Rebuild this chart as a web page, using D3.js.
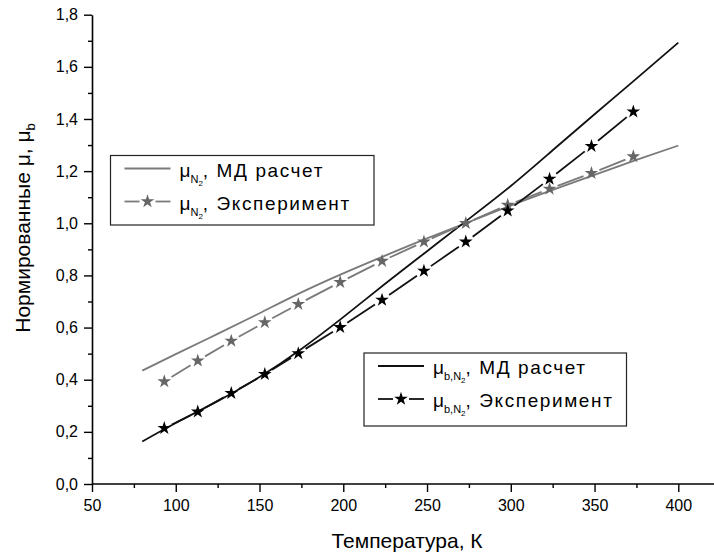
<!DOCTYPE html>
<html>
<head>
<meta charset="utf-8">
<script src="https://cdn.jsdelivr.net/npm/d3@7/dist/d3.min.js"></script>
<style>
  body { margin: 0; background: #fff; }
  text { font-family: "Liberation Sans", Arial, sans-serif; fill: #000; }
</style>
</head>
<body>
<figure id="mu-chart" style="margin:0"></figure>
<script>
// experimental points (K) and normalized values
var expT = [93.15, 113.15, 133.15, 153.15, 173.15, 198.15, 223.15, 248.15, 273.15, 298.15, 323.15, 348.15, 373.15];
var expMu = [0.393, 0.473, 0.549, 0.620, 0.690, 0.774, 0.855, 0.929, 1.000, 1.070, 1.132, 1.192, 1.256];
var expMuB = [0.214, 0.277, 0.348, 0.421, 0.501, 0.601, 0.706, 0.817, 0.929, 1.048, 1.170, 1.296, 1.428];

// MD calculation curves
var mdT = [80, 100, 125, 150, 175, 200, 225, 250, 275, 300, 325, 350, 375, 400];
var mdMu = [0.435, 0.498, 0.576, 0.655, 0.735, 0.808, 0.876, 0.942, 1.005, 1.068, 1.128, 1.186, 1.243, 1.298];
var mdMuB = [0.163, 0.234, 0.318, 0.410, 0.518, 0.640, 0.768, 0.893, 1.017, 1.143, 1.280, 1.418, 1.555, 1.693];

// tick labels
var xTicks = [50, 100, 150, 200, 250, 300, 350, 400];
var xMinor = [75, 125, 175, 225, 275, 325, 375];
var yTicks = [0, 0.2, 0.4, 0.6, 0.8, 1.0, 1.2, 1.4, 1.6, 1.8];
var yMinor = [0.1, 0.3, 0.5, 0.7, 0.9, 1.1, 1.3, 1.5, 1.7];

var width = 714, height = 556;
var grayLine = "#7a7a7a", grayStar = "#666", blackLine = "#111";

var svg = d3.select("figure#mu-chart")
  .append("svg")
    .attr("width", width)
    .attr("height", height);

var x = d3.scaleLinear().domain([50, 400]).range([92, 678.3]);
var y = d3.scaleLinear().domain([0, 1.8]).range([484, 14.7]);

// X axis (major + minor ticks)
var gx = svg.append("g")
  .attr("transform", "translate(0," + y(0) + ")")
  .call(d3.axisBottom(x)
    .tickValues(xTicks)
    .tickSize(8)
    .tickSizeOuter(0)
    .tickPadding(8)
    .tickFormat(d3.format("d")));
gx.select(".domain").remove();
gx.append("line")
  .attr("x1", x(50)).attr("x2", width)
  .attr("stroke", "#000").attr("stroke-width", 1.6);
svg.append("g")
  .attr("transform", "translate(0," + y(0) + ")")
  .call(d3.axisBottom(x).tickValues(xMinor).tickSize(4).tickFormat(""))
  .select(".domain").remove();

// Y axis
var fmt = function(d) { return d3.format(".1f")(d).replace(".", ","); };
var gy = svg.append("g")
  .attr("transform", "translate(" + x(50) + ",0)")
  .call(d3.axisLeft(y)
    .tickValues(yTicks)
    .tickSize(8)
    .tickSizeOuter(0)
    .tickPadding(6)
    .tickFormat(fmt));
gy.select(".domain").attr("stroke-width", 1.6);
svg.append("g")
  .attr("transform", "translate(" + x(50) + ",0)")
  .call(d3.axisLeft(y).tickValues(yMinor).tickSize(4).tickFormat(""))
  .select(".domain").remove();

svg.selectAll(".tick line").attr("stroke-width", 1.4);
svg.selectAll(".tick text")
  .style("font-size", "16px")
  .style("font-family", "\"Liberation Sans\", Arial, sans-serif");

// axis titles
svg.append("text")
  .attr("x", 407).attr("y", 548)
  .attr("text-anchor", "middle")
  .style("font-size", "21px")
  .text("Температура, К");

var yl = svg.append("text")
  .attr("transform", "translate(30,228) rotate(-90)")
  .attr("text-anchor", "middle")
  .style("font-size", "21px");
yl.append("tspan").text("Нормированные μ, μ");
yl.append("tspan").attr("dy", 5).style("font-size", "13px").text("b");

// MD curves
var line = d3.line()
  .x(function(d) { return x(d[0]); })
  .y(function(d) { return y(d[1]); })
  .curve(d3.curveNatural);

svg.append("path")
  .datum(d3.zip(mdT, mdMu))
  .attr("fill", "none")
  .attr("stroke", grayLine)
  .attr("stroke-width", 1.8)
  .attr("d", line);

svg.append("path")
  .datum(d3.zip(mdT, mdMuB))
  .attr("fill", "none")
  .attr("stroke", blackLine)
  .attr("stroke-width", 1.8)
  .attr("d", line);

// experiment: line segments with gaps round the stars
function gapSegments(pts, gap) {
  var segs = [];
  for (var i = 0; i < pts.length - 1; i++) {
    var x1 = x(pts[i][0]), y1 = y(pts[i][1]);
    var x2 = x(pts[i + 1][0]), y2 = y(pts[i + 1][1]);
    var len = Math.hypot(x2 - x1, y2 - y1);
    var ux = (x2 - x1) / len, uy = (y2 - y1) / len;
    segs.push([x1 + ux * gap, y1 + uy * gap, x2 - ux * gap, y2 - uy * gap]);
  }
  return segs;
}

var star = d3.symbol().type(d3.symbolStar).size(58);

function drawExp(vals, lineColor, starColor) {
  var pts = d3.zip(expT, vals);
  svg.append("g").selectAll("line")
    .data(gapSegments(pts, 8.5))
    .join("line")
      .attr("x1", function(d) { return d[0]; })
      .attr("y1", function(d) { return d[1]; })
      .attr("x2", function(d) { return d[2]; })
      .attr("y2", function(d) { return d[3]; })
      .attr("stroke", lineColor)
      .attr("stroke-width", 1.8);
  svg.append("g").selectAll("path")
    .data(pts)
    .join("path")
      .attr("transform", function(d) { return "translate(" + x(d[0]) + "," + y(d[1]) + ")"; })
      .attr("d", star)
      .attr("fill", starColor);
}
drawExp(expMu, grayLine, grayStar);
drawExp(expMuB, blackLine, "#000");

// legends
function legend(left, top, w, h, color, starColor, sub) {
  var g = svg.append("g");
  g.append("rect")
    .attr("x", left).attr("y", top).attr("width", w).attr("height", h)
    .attr("fill", "#fff").attr("stroke", "#222").attr("stroke-width", 1.2);
  var rows = [{dy: 13, t: ", МД расчет", exp: false}, {dy: 46, t: ", Эксперимент", exp: true}];
  rows.forEach(function(r) {
    var cy = top + r.dy;
    if (r.exp) {
      g.append("line").attr("x1", left + 14).attr("x2", left + 29).attr("y1", cy).attr("y2", cy)
        .attr("stroke", color).attr("stroke-width", 1.8);
      g.append("line").attr("x1", left + 45).attr("x2", left + 60).attr("y1", cy).attr("y2", cy)
        .attr("stroke", color).attr("stroke-width", 1.8);
      g.append("path").attr("transform", "translate(" + (left + 37) + "," + cy + ")")
        .attr("d", star).attr("fill", starColor);
    } else {
      g.append("line").attr("x1", left + 14).attr("x2", left + 60).attr("y1", cy).attr("y2", cy)
        .attr("stroke", color).attr("stroke-width", 1.8);
    }
    var t = g.append("text").attr("x", left + 69).attr("y", cy + 8).style("font-size", "19px");
    t.append("tspan").text("μ");
    t.append("tspan").attr("dy", 6).style("font-size", "11px").text(sub);
    t.append("tspan").attr("dy", 3).style("font-size", "8px").text("2");
    t.append("tspan").attr("dy", -9).style("font-size", "19px").style("letter-spacing", "1.6px").text(r.t);
  });
}
legend(110.5, 155.5, 263.5, 69.5, grayLine, grayStar, "N");
legend(364, 353, 262.5, 73, blackLine, "#000", "b,N");
</script>
</body>
</html>
